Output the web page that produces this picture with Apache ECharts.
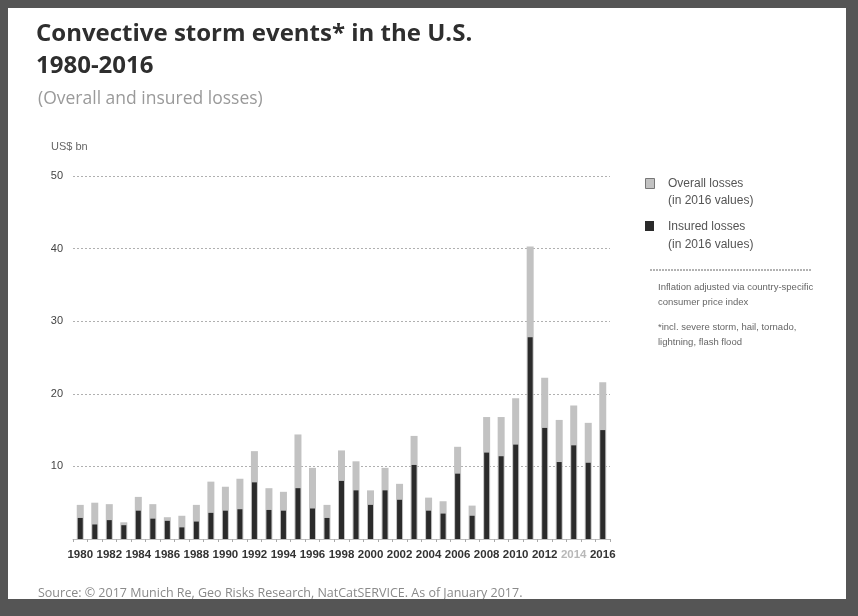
<!DOCTYPE html>
<html>
<head>
<meta charset="utf-8">
<script src="https://cdn.jsdelivr.net/npm/echarts@6/dist/echarts.min.js"></script>
<style>
  html, body { margin: 0; padding: 0; background: #fff; }
  #chart { width: 858px; height: 616px; }
</style>
</head>
<body>
<div id="chart"></div>
<script>
// Convective storm losses in the U.S., US$ bn (2016 values)
const years = ['1980','1981','1982','1983','1984','1985','1986','1987','1988','1989',
  '1990','1991','1992','1993','1994','1995','1996','1997','1998','1999',
  '2000','2001','2002','2003','2004','2005','2006','2007','2008','2009',
  '2010','2011','2012','2013','2014','2015','2016'];
const overallLosses = [4.7, 5.0, 4.8, 2.3, 5.8, 4.8, 3.0, 3.2, 4.7, 7.9,
  7.2, 8.3, 12.1, 7.0, 6.5, 14.4, 9.8, 4.7, 12.2, 10.7,
  6.7, 9.8, 7.6, 14.2, 5.7, 5.2, 12.7, 4.6, 16.8, 16.8,
  19.4, 40.3, 22.2, 16.4, 18.4, 16.0, 21.6];
const insuredLosses = [2.9, 2.0, 2.6, 1.9, 3.9, 2.8, 2.5, 1.6, 2.4, 3.6,
  3.9, 4.1, 7.8, 4.0, 3.9, 7.0, 4.2, 2.9, 8.0, 6.7,
  4.7, 6.7, 5.4, 10.2, 3.9, 3.5, 9.0, 3.2, 11.9, 11.4,
  13.0, 27.8, 15.3, 10.6, 12.9, 10.5, 15.0];
const yTicks = [10, 20, 30, 40, 50];

const chart = echarts.init(document.getElementById('chart'), null, { renderer: 'canvas' });

const narrowFont = "'Liberation Sans Narrow', 'Liberation Sans', sans-serif";
const headFont = "'Open Sans', Lato, sans-serif";
const W = 858, H = 616;
const frameColor = '#555555';

chart.setOption({
  backgroundColor: '#fff',
  animation: false,
  title: [
    { text: 'Convective storm events* in the U.S.\n1980-2016', left: 31, top: 13,
      textStyle: { fontFamily: headFont, fontWeight: 'bold', fontSize: 24, color: '#2e2e2e', lineHeight: 32 } },
    { text: '(Overall and insured losses)', left: 33, top: 85,
      textStyle: { fontFamily: headFont, fontWeight: 'normal', fontSize: 17.5, color: '#9a9a9a' } },
    { text: 'US$ bn', left: 46, top: 136,
      textStyle: { fontFamily: narrowFont, fontWeight: 'normal', fontSize: 11, color: '#666' } },
    { text: 'Source: © 2017 Munich Re, Geo Risks Research, NatCatSERVICE. As of January 2017.', left: 33, top: 582,
      textStyle: { fontFamily: headFont, fontWeight: 'normal', fontSize: 12.5, color: '#8a8a8a' } }
  ],
  legend: { show: false },
  grid: { left: 73, right: 248, top: 176, bottom: 77 },
  xAxis: [
    { type: 'category', data: years,
      axisLine: { show: true, lineStyle: { color: '#bdbdbd', width: 1 } },
      axisTick: { show: true, interval: 0, length: 3, lineStyle: { color: '#aaa' } },
      axisLabel: { interval: 1, margin: 10, fontFamily: narrowFont, fontSize: 11.5, fontWeight: 'bold',
        color: '#333',
        formatter: v => v === '2014' ? '{lt|' + v + '}' : v,
        rich: { lt: { color: '#b8b8b8', fontFamily: narrowFont, fontSize: 11.5 } } },
      splitLine: { show: false } },
    { type: 'category', data: years, show: false }
  ],
  yAxis: { type: 'value', min: 0, max: 50, interval: 10,
    axisLine: { show: false }, axisTick: { show: false },
    axisLabel: { margin: 10, fontFamily: narrowFont, fontSize: 11, color: '#444',
      formatter: v => yTicks.includes(v) ? String(v) : '' },
    splitLine: { show: true, lineStyle: { color: '#b0b0b0', type: [2, 2], width: 1 } } },
  series: [
    { name: 'Overall losses', type: 'bar', xAxisIndex: 0,
      data: overallLosses, barWidth: 7, itemStyle: { color: '#c2c2c2' }, z: 2 },
    { name: 'Insured losses', type: 'bar', xAxisIndex: 1,
      data: insuredLosses, barWidth: 5, itemStyle: { color: '#2b2b2b' }, z: 3 }
  ],
  graphic: [
    // legend keys and notes
    { type: 'rect', left: 645, top: 178, shape: { width: 9, height: 10 },
      style: { fill: '#c2c2c2', stroke: '#777', lineWidth: 1 } },
    { type: 'text', left: 668, top: 175,
      style: { text: 'Overall losses\n(in 2016 values)', font: "12px " + narrowFont, fill: '#555', lineHeight: 17 } },
    { type: 'rect', left: 645, top: 221, shape: { width: 9, height: 10 },
      style: { fill: '#2b2b2b' } },
    { type: 'text', left: 668, top: 218,
      style: { text: 'Insured losses\n(in 2016 values)', font: "12px " + narrowFont, fill: '#555', lineHeight: 18 } },
    { type: 'line', shape: { x1: 650, y1: 270, x2: 811, y2: 270 },
      style: { stroke: '#666', lineWidth: 1, lineDash: [2, 1] } },
    { type: 'text', left: 658, top: 280,
      style: { text: 'Inflation adjusted via country-specific\nconsumer price index', font: "9.5px " + narrowFont, fill: '#666', lineHeight: 15 } },
    { type: 'text', left: 658, top: 320,
      style: { text: '*incl. severe storm, hail, tornado,\nlightning, flash flood', font: "9.5px " + narrowFont, fill: '#666', lineHeight: 15 } },
    // picture frame
    { type: 'rect', z: 100, shape: { x: 0, y: 0, width: W, height: 8 }, style: { fill: frameColor } },
    { type: 'rect', z: 100, shape: { x: 0, y: 0, width: 8, height: H }, style: { fill: frameColor } },
    { type: 'rect', z: 100, shape: { x: W - 12, y: 0, width: 12, height: H }, style: { fill: frameColor } },
    { type: 'rect', z: 100, shape: { x: 0, y: 599, width: W, height: H - 599 }, style: { fill: frameColor } }
  ]
});
</script>
</body>
</html>
